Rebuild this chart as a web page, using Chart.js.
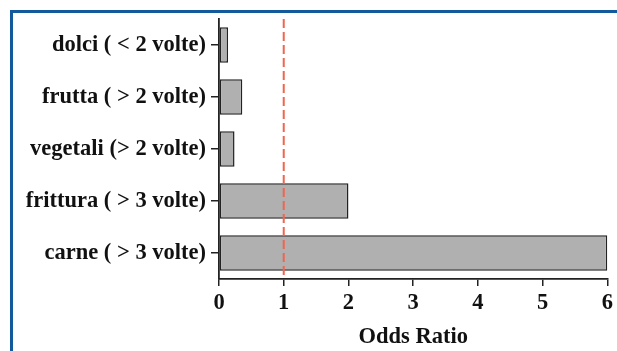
<!DOCTYPE html>
<html>
<head>
<meta charset="utf-8">
<script src="https://cdn.jsdelivr.net/npm/chart.js@4/dist/chart.umd.min.js"></script>
<style>
  html, body { margin: 0; padding: 0; background: #fff; }
  #wrap { position: relative; width: 617px; height: 351px; overflow: hidden; }
  #frame { position: absolute; left: 10px; top: 10px; width: 700px; height: 400px;
           border-left: 3px solid #125a9c; border-top: 3px solid #125a9c; box-sizing: border-box; }
  canvas { position: absolute; left: 0; top: 0; }
</style>
</head>
<body>
<div id="wrap">
  <div id="frame"></div>
  <canvas id="c" width="617" height="351"></canvas>
</div>
<script>
const categories = ["dolci ( < 2 volte)", "frutta ( > 2 volte)", "vegetali (> 2 volte)", "frittura ( > 3 volte)", "carne ( > 3 volte)"];
const oddsRatio = [0.14, 0.36, 0.24, 2.0, 6.0];
const referenceValue = 1;
const xTicks = [0, 1, 2, 3, 4, 5, 6];
const axisTitle = "Odds Ratio";

const FONT = "'Liberation Serif', 'Times New Roman', serif";

const refLinePlugin = {
  id: 'refLine',
  afterDatasetsDraw(chart) {
    const x = chart.scales.x.getPixelForValue(referenceValue);
    const a = chart.chartArea;
    const ctx = chart.ctx;
    ctx.save();
    ctx.strokeStyle = '#f2644e';
    ctx.lineWidth = 2;
    ctx.setLineDash([9, 4]);
    ctx.beginPath();
    ctx.moveTo(x, a.top);
    ctx.lineTo(x, a.bottom);
    ctx.stroke();
    ctx.restore();
  }
};

new Chart(document.getElementById('c'), {
  type: 'bar',
  data: {
    labels: categories,
    datasets: [{
      data: oddsRatio,
      backgroundColor: '#b0b0b0',
      borderColor: '#222222',
      borderWidth: 1.5,
      borderSkipped: false,
      barPercentage: 0.68,
      categoryPercentage: 1.0
    }]
  },
  options: {
    indexAxis: 'y',
    responsive: false,
    animation: false,
    layout: { padding: { top: 19, right: 9, left: 0, bottom: 0 } },
    plugins: { legend: { display: false }, tooltip: { enabled: false } },
    scales: {
      x: {
        type: 'linear',
        min: 0, max: 6,
        afterBuildTicks(scale) { scale.ticks = xTicks.map(v => ({ value: v })); },
        afterFit(scale) { scale.height = 72; },
        grid: { drawOnChartArea: false, tickLength: 7, color: '#222', lineWidth: 1.5 },
        border: { display: true, color: '#222', width: 1.8 },
        ticks: { color: '#111', padding: 4, font: { family: FONT, size: 22.5, weight: 'bold' } },
        title: { display: true, text: axisTitle, color: '#111', padding: { top: 9, bottom: 0 },
                 font: { family: FONT, size: 22.5, weight: 'bold' } }
      },
      y: {
        type: 'category',
        afterFit(scale) { scale.width = 219; },
        grid: { drawOnChartArea: false, offset: false, tickLength: 8, color: '#222', lineWidth: 1.5 },
        border: { display: true, color: '#222', width: 1.8 },
        ticks: { color: '#111', padding: 5, font: { family: FONT, size: 22.5, weight: 'bold' } }
      }
    }
  },
  plugins: [refLinePlugin]
});
</script>
</body>
</html>
